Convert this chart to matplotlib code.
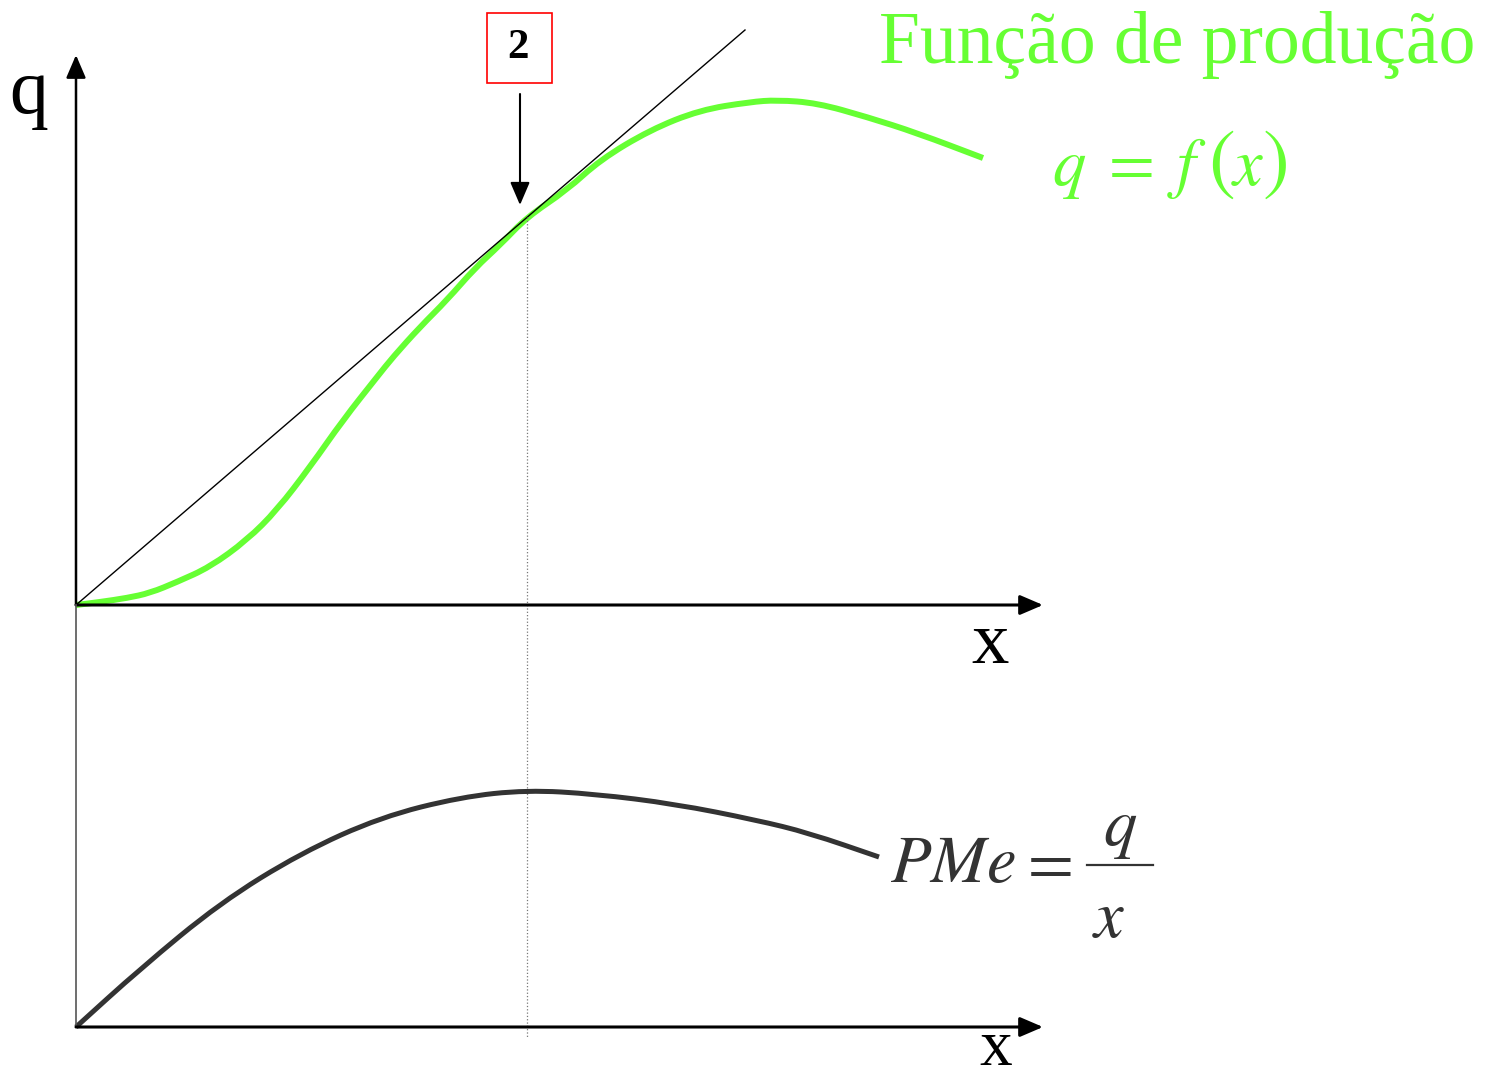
import matplotlib
matplotlib.use('Agg')
import matplotlib.pyplot as plt
from matplotlib.patches import Rectangle, PathPatch
from matplotlib.path import Path

plt.rcParams['mathtext.fontset'] = 'stix'

# production function q = f(x)
x_prod = [0.0, 0.24, 0.51, 0.74, 1.01, 1.34, 1.71, 2.01, 2.34, 2.67, 3.01, 3.17,
          3.44, 3.71, 3.99, 4.24, 4.51, 4.91, 5.24, 5.74, 6.24, 6.74, 7.01, 7.41,
          7.91, 8.41, 9.07]
q_prod = [0.0, 0.03, 0.07, 0.12, 0.23, 0.38, 0.65, 0.95, 1.38, 1.85, 2.28, 2.48,
          2.78, 3.05, 3.37, 3.60, 3.88, 4.15, 4.45, 4.75, 4.95, 5.03, 5.05, 5.02,
          4.88, 4.72, 4.47]

# ray from the origin, tangent at x_tan
x_ray = [0.0, 6.69]
q_ray = [0.0, 5.75]
x_tan = 4.51

# average product PMe = q/x
x_pme = [0.0, 0.64, 1.44, 2.25, 3.05, 3.85, 4.51, 5.19, 5.99, 6.80, 7.33, 8.03]
pme = [0.0, 0.58, 1.24, 1.74, 2.10, 2.30, 2.37, 2.33, 2.23, 2.07, 1.94, 1.70]

green = '#66ff33'
dark = '#333333'
serif = 'Liberation Serif'

W, H = 14.89, 10.79
fig = plt.figure(figsize=(W, H), dpi=100)

# two overlaid axes, same x scale, different origins
ax1 = fig.add_axes([0, 0, 1, 1])
ax1.set_xlim(-0.76, W - 0.76)
ax1.set_ylim(-(H - 6.05), 6.05)
ax1.axis('off')

ax2 = fig.add_axes([0, 0, 1, 1])
ax2.set_xlim(-0.76, W - 0.76)
ax2.set_ylim(-(H - 10.27), 10.27)
ax2.axis('off')


def arrow(ax, x0, y0, x1, y1, lw=2.0):
    ax.annotate('', xy=(x1, y1), xytext=(x0, y0),
                arrowprops=dict(arrowstyle='-|>,head_length=0.7,head_width=0.3',
                                lw=lw, color='black', shrinkA=0, shrinkB=0,
                                mutation_scale=20))


def smooth_curve(ax, xs, ys, **kw):
    # quadratic b-spline through the read points, drawn as a path
    pts = list(zip(xs, ys))
    mid = lambda a, b: ((a[0] + b[0]) / 2, (a[1] + b[1]) / 2)
    verts = [pts[0], mid(pts[0], pts[1])]
    codes = [Path.MOVETO, Path.LINETO]
    for i in range(1, len(pts) - 1):
        verts += [pts[i], mid(pts[i], pts[i + 1])]
        codes += [Path.CURVE3, Path.CURVE3]
    verts.append(pts[-1])
    codes.append(Path.LINETO)
    ax.add_patch(PathPatch(Path(verts, codes), fill=False, **kw))


# top panel
ax2.plot([0, 0], [0, 4.22], color='#555555', lw=1.2)
arrow(ax1, 0, 0, 0, 5.5, lw=1.8)
arrow(ax1, 0, 0, 9.67, 0, lw=2.2)
ax1.plot(x_ray, q_ray, color='black', lw=1.0, clip_on=False)
smooth_curve(ax1, x_prod, q_prod, ec=green, lw=4.3, capstyle='butt')
ax1.plot([x_tan, x_tan], [3.88, -4.32], color='#777777', lw=0.9, ls=':')

ax1.text(-0.47, 4.92, 'q', fontsize=56, family=serif, ha='center', va='baseline')
ax1.text(9.14, -0.58, 'x', fontsize=54, family=serif, ha='center', va='baseline')
ax1.text(11.01, 5.42, 'Função de produção', fontsize=53, family=serif,
         color=green, ha='center', va='baseline')

# q = f(x) with tall parentheses
ax1.text(9.76, 4.20, r'$q\;=\;f$', fontsize=48, color=green, ha='left', va='baseline')
ax1.text(11.32, 4.20, r'$($', fontsize=58, color=green, ha='left', va='baseline')
ax1.text(11.55, 4.20, r'$x$', fontsize=48, color=green, ha='left', va='baseline')
ax1.text(11.86, 4.20, r'$)$', fontsize=58, color=green, ha='left', va='baseline')

ax1.add_patch(Rectangle((4.11, 5.22), 0.65, 0.70, fill=False, ec='red', lw=1.2,
                        clip_on=False))
ax1.text(4.42, 5.57, '2', fontsize=31, family=serif, weight='bold',
         ha='center', va='center')
arrow(ax1, 4.44, 5.11, 4.44, 4.00, lw=1.5)

# bottom panel
arrow(ax2, 0, 0, 9.67, 0, lw=2.2)
smooth_curve(ax2, x_pme, pme, ec=dark, lw=3.6, capstyle='butt')
ax2.text(9.20, -0.38, 'x', fontsize=47, family=serif, ha='center', va='baseline')

# PMe = q / x
ax2.text(8.14, 1.45, r'$PMe$', fontsize=48, color=dark, ha='left', va='baseline')
ax2.text(9.42, 1.45, r'$=$', fontsize=48, color=dark, ha='left', va='baseline')
ax2.text(10.44, 1.82, r'$q$', fontsize=48, color=dark, ha='center', va='baseline')
ax2.text(10.33, 0.90, r'$x$', fontsize=48, color=dark, ha='center', va='baseline')
ax2.plot([10.11, 10.77], [1.62, 1.62], color=dark, lw=1.6)

fig.savefig('out.png', dpi=100)
